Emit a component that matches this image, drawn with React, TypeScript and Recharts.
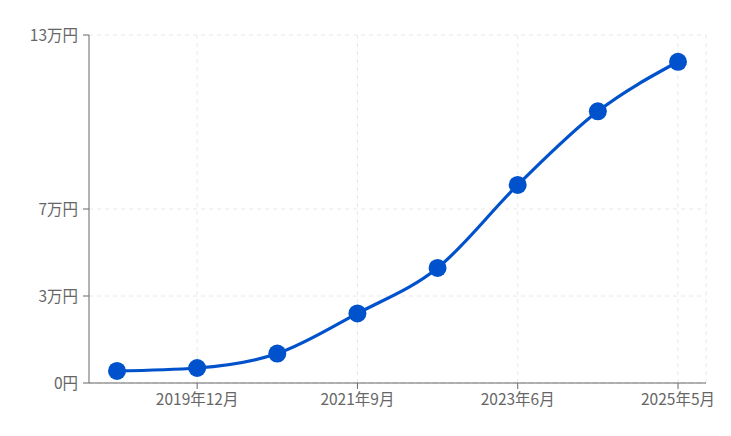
import React from 'react'
import { LineChart, Line, XAxis, YAxis, CartesianGrid } from 'recharts'

// Monthly amounts (円)
const months = ['2019年1月', '2019年12月', '2020年11月', '2021年9月', '2022年8月', '2023年6月', '2024年5月', '2025年5月']
const amounts = [4500, 5600, 11000, 26000, 43000, 74000, 101500, 120000]
const xTicks = ['2019年12月', '2021年9月', '2023年6月', '2025年5月']
const yTicks = [0, 32500, 65000, 130000]

const BLUE = '#0052cc'
const AXIS = '#666666'
const FONT = '"Noto Sans CJK JP", "Noto Sans", sans-serif'
const X_PAD = 28

const data = months.map((m, i) => ({ month: m, amount: amounts[i] }))

const formatYen = (v: number) => (v === 0 ? '0円' : `${Math.round(v / 10000)}万円`)

// vertical grid at the x ticks plus the right edge of the plot
const verticalLines = ({ xAxis, offset }: any) => {
  const scale = xAxis && xAxis.scale
  const step = (offset.width - 2 * X_PAD) / (months.length - 1)
  const pts = xTicks.map((t) =>
    typeof scale === 'function' ? scale(t) : offset.left + X_PAD + months.indexOf(t) * step
  )
  pts.push(offset.left + offset.width)
  return pts
}

export default function App() {
  return (
    <div style={{ fontFamily: FONT }}>
      <LineChart
        width={720}
        height={420}
        data={data}
        margin={{ top: 27, right: 22, bottom: 15, left: 0 }}
      >
        <CartesianGrid
          stroke="#e8e8e8"
          strokeDasharray="4 4"
          verticalCoordinatesGenerator={verticalLines}
        />
        <XAxis
          dataKey="month"
          ticks={xTicks}
          interval={0}
          padding={{ left: X_PAD, right: X_PAD }}
          stroke={AXIS}
          tickMargin={5}
          tick={{ fill: AXIS, fontSize: 15.5, fontFamily: FONT }}
        />
        <YAxis
          width={81}
          domain={[0, 130000]}
          ticks={yTicks}
          tickFormatter={formatYen}
          stroke={AXIS}
          tickMargin={5}
          tick={{ fill: AXIS, fontSize: 15.5, fontFamily: FONT }}
        />
        <Line
          type="monotone"
          dataKey="amount"
          stroke={BLUE}
          strokeWidth={3.2}
          dot={{ r: 9, fill: BLUE, stroke: BLUE, strokeWidth: 0 }}
          activeDot={false}
          isAnimationActive={false}
        />
      </LineChart>
    </div>
  )
}
